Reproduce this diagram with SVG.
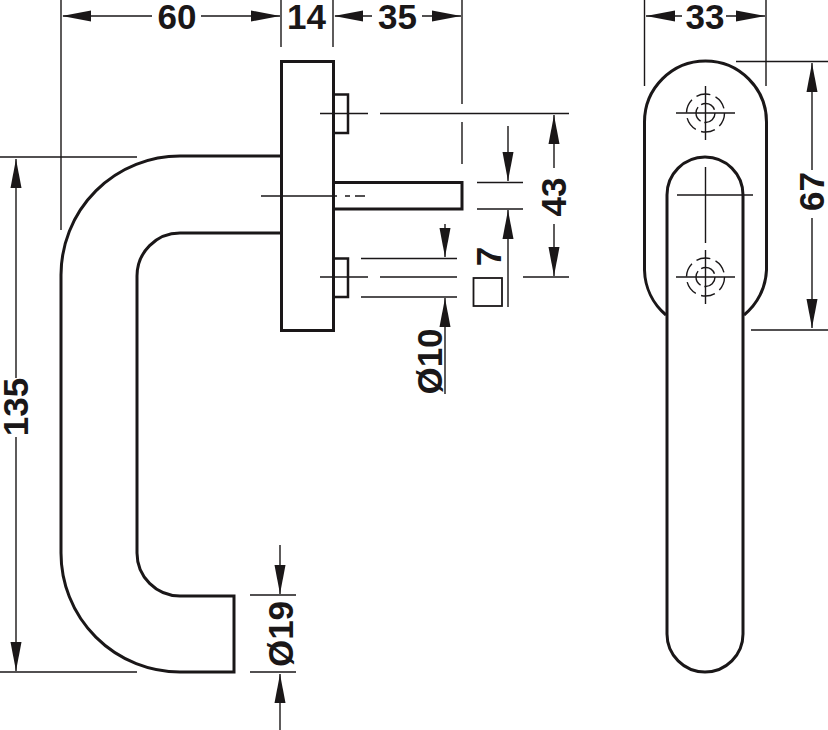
<svg xmlns="http://www.w3.org/2000/svg" width="828" height="730" viewBox="0 0 828 730">
<style>
.o{fill:none;stroke:#1a1718;stroke-width:3}
.n{fill:none;stroke:#1a1718;stroke-width:2.500}
.t{fill:none;stroke:#1a1718;stroke-width:1.400}
.d{fill:none;stroke:#1a1718;stroke-width:1.400;stroke-dasharray:14.300 5.600}
.e{fill:none;stroke:#1a1718;stroke-width:1.400;stroke-dasharray:16 4}
.a{fill:#1a1718;stroke:none}
text{font-family:"Liberation Sans",Arial,sans-serif;font-weight:700;font-size:35px;fill:#1a1718;text-anchor:middle}
</style>
<defs>
<polygon id="ar" class="a" points="0,0 -29,-5.500 -29,5.500"/>
</defs>
<rect width="828" height="730" fill="#fff"/>
<g id="handle-side"><path class="o" d="M281 156H180A119 119 0 0 0 61 275V553A119 119 0 0 0 180 672H234V596H180A43 43 0 0 1 137 553V276A43 43 0 0 1 180 233H281"/></g>
<g id="plate"><rect class="o" x="281.500" y="61.500" width="52" height="269"/></g>
<g id="nut-top"><path class="n" d="M333 94.500H348V133H333"/></g>
<g id="nut-bottom"><path class="n" d="M333 258.500H348V297H333"/></g>
<g id="spindle"><path class="o" d="M333 182.500H462V209H333"/></g>
<g id="square"><rect x="473.500" y="278" width="28.500" height="28" fill="none" stroke="#1a1718" stroke-width="1.800"/></g>
<g id="rosette"><path class="o" d="M666 315A61 61 0 0 1 644.500 270V122A61 61 0 0 1 766.500 122V270A61 61 0 0 1 744 315"/></g>
<g id="handle-front"><path class="o" d="M667 195A38 38 0 0 1 743 195V634A38 38 0 0 1 667 634Z"/></g>
<g id="screw-top"><circle class="d" cx="705.500" cy="113" r="19"/><circle class="e" cx="705.500" cy="113" r="9.500"/></g>
<g id="screw-bottom"><circle class="d" cx="705.500" cy="277" r="19"/><circle class="e" cx="705.500" cy="277" r="9.500"/></g>
<g id="connectors">
<path class="t" d="M61 0V230M281 0V47M333 0V47M462 0V104M462 122V164M0 157H137M0 672H137M320 113.500H368M380 113.500H569M261 196H337M345 196H350M355 196H365M320 277H368M380 277H457M523 277H569M361 258.500H457M361 297H457M477 182.500H523M477 209H523M250 595H296M250 672H296M644.500 0V86M766 0V86M736 61.500H828M751 330H828"/>
<path class="t" d="M63 16H152M201 16H280M335 16H372M422 16H461M646 16H682M726 16H765"/>
<path class="t" d="M16 159V378M16 437V671M280 545V594M280 674V730M508 126V181M508 210V307M445 224V257M445 298V394M554 115V168M554 224V276M812 63V170M812 218V328"/>
<path class="t" d="M676 113H735M705.500 86V140M676 277H735M705.500 250V304M677 195H753M705.500 156V158M705.500 167V243"/>
<use href="#ar" transform="translate(62,16) rotate(180)"/>
<use href="#ar" transform="translate(280,16)"/>
<use href="#ar" transform="translate(334,16) rotate(180)"/>
<use href="#ar" transform="translate(461,16)"/>
<use href="#ar" transform="translate(646,16) rotate(180)"/>
<use href="#ar" transform="translate(765,16)"/>
<use href="#ar" transform="translate(16,159) rotate(-90)"/>
<use href="#ar" transform="translate(16,671) rotate(90)"/>
<use href="#ar" transform="translate(280,594) rotate(90)"/>
<use href="#ar" transform="translate(280,674) rotate(-90)"/>
<use href="#ar" transform="translate(508,181) rotate(90)"/>
<use href="#ar" transform="translate(508,210) rotate(-90)"/>
<use href="#ar" transform="translate(445,257) rotate(90)"/>
<use href="#ar" transform="translate(445,298) rotate(-90)"/>
<use href="#ar" transform="translate(554,115) rotate(-90)"/>
<use href="#ar" transform="translate(554,276) rotate(90)"/>
<use href="#ar" transform="translate(812,63) rotate(-90)"/>
<use href="#ar" transform="translate(812,328) rotate(90)"/>
</g>
<g id="labels">
<text x="177" y="28.500">60</text>
<text x="306.500" y="28.500">14</text>
<text x="397.500" y="28.500">35</text>
<text x="705" y="28.500">33</text>
<text transform="translate(28,407) rotate(-90)">135</text>
<text transform="translate(293,634) rotate(-90)">Ø19</text>
<text transform="translate(441.500,361.500) rotate(-90)">Ø10</text>
<text transform="translate(500.500,256.500) rotate(-90)">7</text>
<text transform="translate(566,197) rotate(-90)">43</text>
<text transform="translate(824,191.500) rotate(-90)">67</text>
</g>
</svg>
